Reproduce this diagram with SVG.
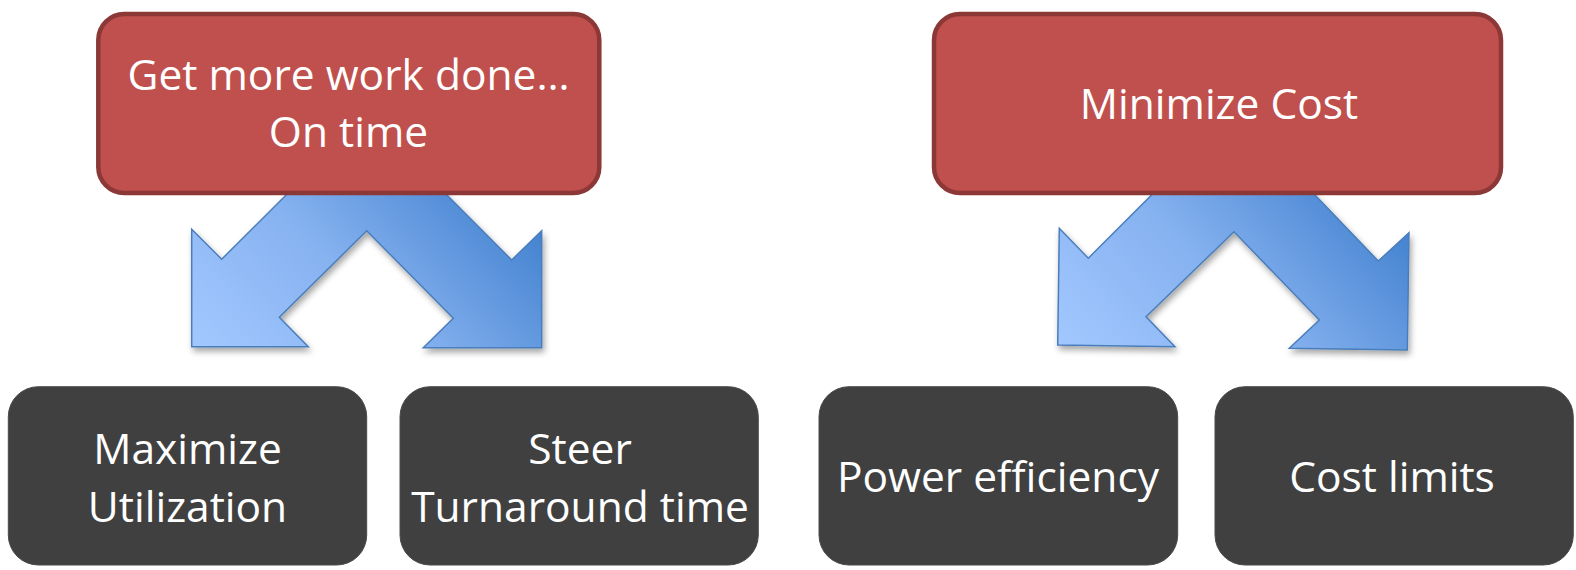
<svg xmlns="http://www.w3.org/2000/svg" width="1576" height="570" viewBox="0 0 1576 570">
  <defs>
    <linearGradient id="blueGrad" x1="0" y1="1" x2="1" y2="0.35">
      <stop offset="0" stop-color="#A3C8FF"/>
      <stop offset="0.45" stop-color="#86B2F0"/>
      <stop offset="1" stop-color="#3B7CCB"/>
    </linearGradient>
    <filter id="shadow" x="-10%" y="-10%" width="125%" height="130%">
      <feDropShadow dx="2" dy="4" stdDeviation="3" flood-color="#000" flood-opacity="0.35"/>
    </filter>
    <style>
      .top { fill: #C0504D; stroke: #8C3836; stroke-width: 4.5; }
      .bottom { fill: #404040; stroke: #4a4a4a; stroke-width: 1; }
      .arrow { fill: url(#blueGrad); stroke: #4A7EBB; stroke-width: 1.5; stroke-linejoin: miter; filter: url(#shadow); }
      .label { font-family: "Open Sans", "Liberation Sans", sans-serif; font-size: 42.5px; fill: #FFFFFF; text-anchor: middle; }
    </style>
  </defs>
  <rect width="1576" height="570" fill="#FFFFFF"/>

  <g id="connectors">
    <polygon class="arrow" points="366.7,114.5 511.7,260 541.7,230.7 541.7,347.7 423.3,347.7 453.3,318.3 366.7,230.7 279.3,317.3 308.3,346.7 191.7,346.7 191.7,229.3 221.7,259.3"/>
    <polygon class="arrow" points="1235,111.6 1378.3,261 1409,232.7 1407.3,350 1289.3,348.3 1319.3,320 1234,231.7 1146,316.7 1175,346.7 1057.7,345 1059.3,228.3 1088.3,258.3"/>
  </g>

  <g id="node-work">
    <rect class="top" x="98.3" y="14" width="501" height="179" rx="26" ry="26"/>
    <text class="label" x="348.5" y="90">Get more work done…</text>
    <text class="label" x="348.5" y="146.7">On time</text>
  </g>

  <g id="node-cost">
    <rect class="top" x="934" y="14" width="567" height="179" rx="26" ry="26"/>
    <text class="label" x="1219" y="119.3">Minimize Cost</text>
  </g>

  <g id="node-utilization">
    <rect class="bottom" x="8.3" y="386.7" width="358.4" height="178.3" rx="30" ry="30"/>
    <text class="label" x="187.5" y="464">Maximize</text>
    <text class="label" x="187.5" y="521.7">Utilization</text>
  </g>

  <g id="node-turnaround">
    <rect class="bottom" x="400" y="386.7" width="358.3" height="178.3" rx="30" ry="30"/>
    <text class="label" x="580" y="463.5">Steer</text>
    <text class="label" x="580" y="521.7">Turnaround time</text>
  </g>

  <g id="node-power">
    <rect class="bottom" x="819" y="386.7" width="358.7" height="178.3" rx="30" ry="30"/>
    <text class="label" x="998" y="491.7">Power efficiency</text>
  </g>

  <g id="node-limits">
    <rect class="bottom" x="1215" y="386.7" width="358.3" height="178.3" rx="30" ry="30"/>
    <text class="label" x="1392" y="491.7">Cost limits</text>
  </g>
</svg>
